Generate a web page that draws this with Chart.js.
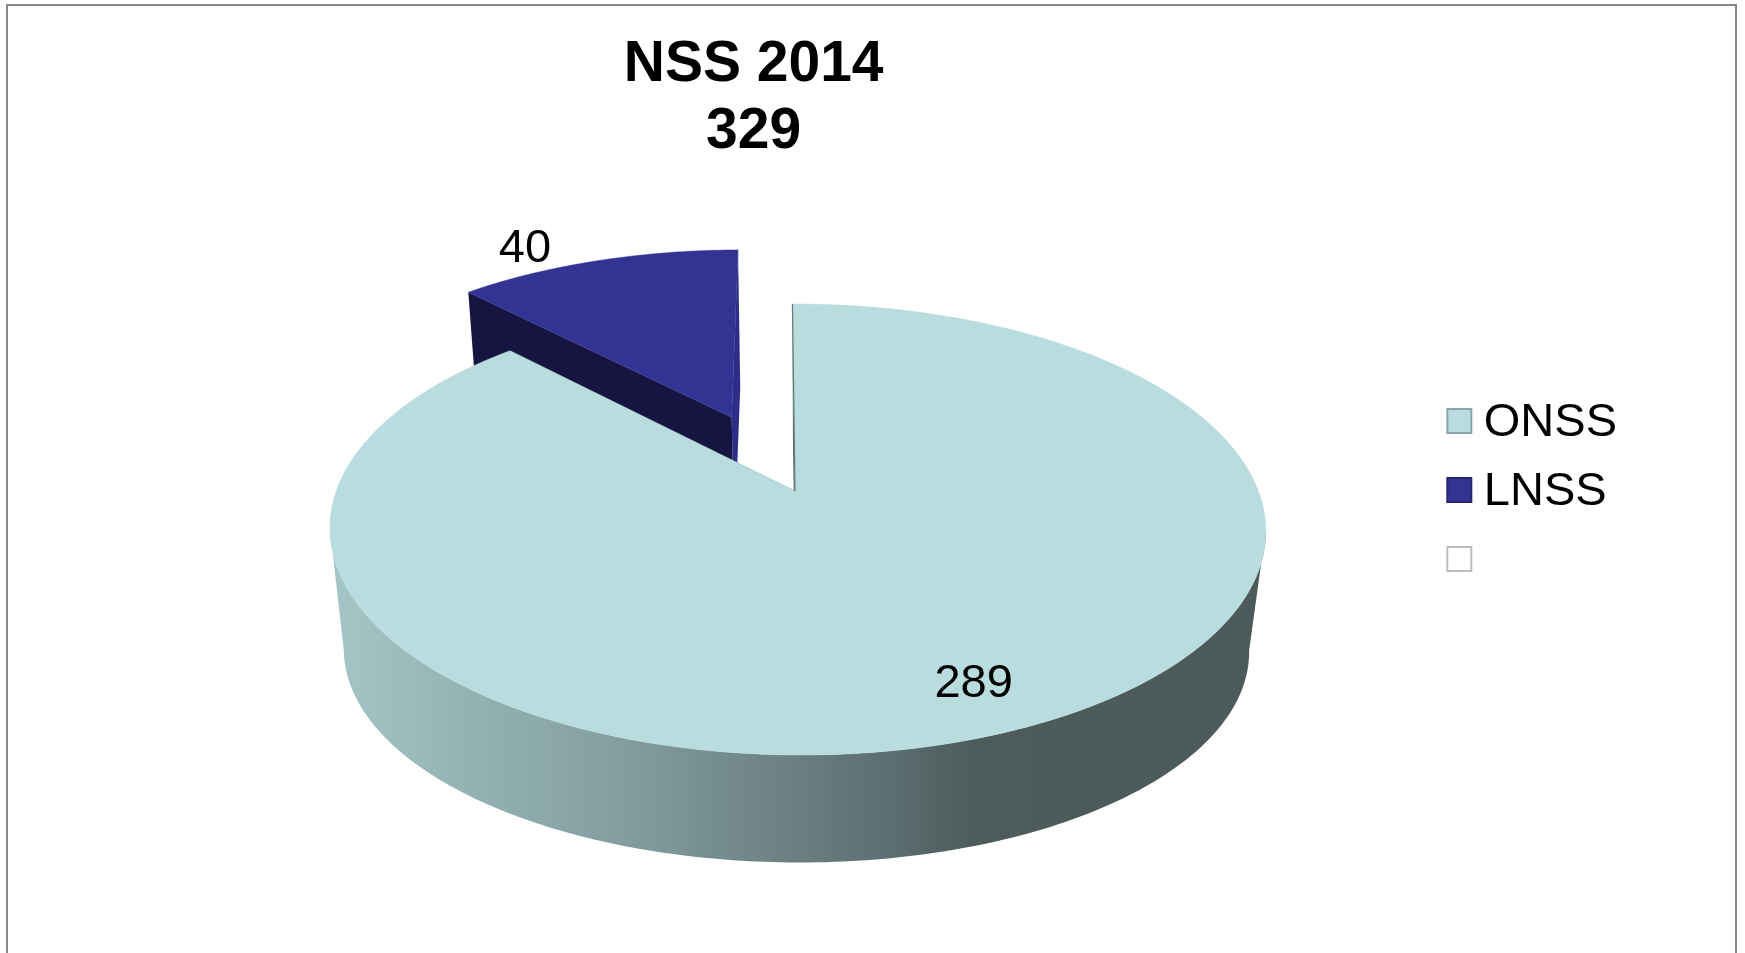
<!DOCTYPE html>
<html>
<head>
<meta charset="utf-8">
<title>NSS 2014</title>
<script src="https://cdn.jsdelivr.net/npm/chart.js@4/dist/chart.umd.min.js"></script>
<style>
html, body { margin: 0; padding: 0; background: #fff; }
canvas { display: block; }
</style>
</head>
<body>
<canvas id="myChart" width="1745" height="953"></canvas>
<script>
const categories = ['ONSS', 'LNSS', ''];
const values = [289, 40, 0];
const titleLines = ['NSS 2014', '329'];
const sliceColors = ['#b9dcde', '#333394', '#ffffff'];
const legendBorders = ['#8ba6a8', '#27276f', '#bdbdbd'];
const startEdgeColors = ['#4c5a5a', '#161440', '#ffffff'];
const endEdgeColors = ['#4c5a5a', '#2d2d88', '#ffffff'];
const explode = [0, 0.385, 0];
const labelRadius = [0.833, 1.16, 0];
const labelTurn = [-0.027, -0.134, 0];

const fontName = '"Liberation Sans", Arial, sans-serif';

// the pie is tilted with a perspective, so the top and the base are two projections of a unit disc
const topFace = { x0: 795, y0: 491, a: 461, b: 218.9, s: 3, k: 0.1708, m: 0.005 };
const baseFace = { x0: 795.5, y0: 614.3, a: 446, b: 205.8, s: 3, k: 0.1708, m: 0.001 };

function project(face, u, v) {
    let w = 1 - face.k * v - face.m * u;
    return { x: face.x0 + (face.a * u + face.s * v) / w, y: face.y0 + face.b * v / w };
}

function swatch(fill, border) {
    // 4px spare at the bottom lifts the box a little against the legend text
    let c = document.createElement('canvas');
    c.width = 28;
    c.height = 32;
    let g = c.getContext('2d');
    g.fillStyle = fill;
    g.fillRect(2, 2, 24, 24);
    g.strokeStyle = border;
    g.lineWidth = 2;
    g.strokeRect(2, 2, 24, 24);
    return c;
}

function slicePoint(face, arc, i, angle) {
    let mid = (arc.startAngle + arc.endAngle) / 2;
    return project(face, Math.cos(mid) * explode[i] + Math.cos(angle), Math.sin(mid) * explode[i] + Math.sin(angle));
}

function apex(face, arc, i) {
    let mid = (arc.startAngle + arc.endAngle) / 2;
    return project(face, Math.cos(mid) * explode[i], Math.sin(mid) * explode[i]);
}

function polygon(c, points) {
    c.beginPath();
    points.forEach((p, n) => n ? c.lineTo(p.x, p.y) : c.moveTo(p.x, p.y));
    c.closePath();
}

function rimAngles(from, to) {
    let out = [];
    let steps = Math.max(2, Math.ceil((to - from) * 60));
    for (let n = 0; n <= steps; n++) out.push(from + (to - from) * n / steps);
    return out;
}

const tiltedPie = {
    id: 'tiltedPie',
    beforeDraw(chart) {
        let c = chart.ctx;
        c.save();
        c.fillStyle = '#fff';
        c.fillRect(0, 0, chart.width, chart.height);
        c.strokeStyle = '#868686';
        c.lineWidth = 2;
        c.strokeRect(7, 5, 1729, 1100);
        c.restore();
    },
    beforeDatasetsDraw(chart) {
        let c = chart.ctx;
        let arcs = chart.getDatasetMeta(0).data;
        c.save();
        for (let i = arcs.length - 1; i >= 0; i--) {
            if (!values[i]) continue;
            let arc = arcs[i];
            let start = arc.startAngle;
            let end = arc.endAngle;

            // straight cut faces
            [[end, endEdgeColors[i]], [start, startEdgeColors[i]]].forEach(([angle, color]) => {
                polygon(c, [apex(topFace, arc, i), slicePoint(topFace, arc, i, angle), slicePoint(baseFace, arc, i, angle), apex(baseFace, arc, i)]);
                c.fillStyle = color;
                c.fill();
            });

            // round wall, only the part that faces the viewer
            let side = Math.asin(topFace.k);
            let from = Math.max(start, side);
            let to = Math.min(end, Math.PI - side);
            if (to > from) {
                let angles = rimAngles(from, to);
                let pts = angles.map(a => slicePoint(topFace, arc, i, a));
                angles.slice().reverse().forEach(a => pts.push(slicePoint(baseFace, arc, i, a)));
                let grad = c.createLinearGradient(330, 0, 1265, 0);
                grad.addColorStop(0, '#a6c5c7');
                grad.addColorStop(0.18, '#90aeb0');
                grad.addColorStop(0.3, '#859fa1');
                grad.addColorStop(0.5, '#6a7f81');
                grad.addColorStop(0.62, '#586a6c');
                grad.addColorStop(0.69, '#4d5b5b');
                grad.addColorStop(1, '#4c5a5a');
                polygon(c, pts);
                c.fillStyle = grad;
                c.fill();
            }

            // top of the slice
            let top = [apex(topFace, arc, i)];
            rimAngles(start, end).forEach(a => top.push(slicePoint(topFace, arc, i, a)));
            polygon(c, top);
            c.fillStyle = sliceColors[i];
            c.fill();
            c.strokeStyle = sliceColors[i];
            c.lineWidth = 0.5;
            c.stroke();

            if (i === 0) {
                c.beginPath();
                let a0 = apex(topFace, arc, i);
                let a1 = slicePoint(topFace, arc, i, start);
                c.moveTo(a0.x, a0.y);
                c.lineTo(a1.x, a1.y);
                c.strokeStyle = '#66797a';
                c.lineWidth = 1.2;
                c.stroke();
            }
        }

        // value labels
        c.fillStyle = '#000';
        c.font = '47px ' + fontName;
        c.textAlign = 'center';
        c.textBaseline = 'middle';
        arcs.forEach((arc, i) => {
            if (!values[i]) return;
            let mid = (arc.startAngle + arc.endAngle) / 2;
            let a = mid + labelTurn[i];
            let p = project(topFace, Math.cos(mid) * explode[i] + Math.cos(a) * labelRadius[i], Math.sin(mid) * explode[i] + Math.sin(a) * labelRadius[i]);
            c.fillText(String(values[i]), p.x, p.y);
        });
        c.restore();
        return false;
    }
};

const ctx = document.getElementById('myChart');
let myChart = new Chart(ctx, {
    type: 'pie',
    data: {
        labels: categories,
        datasets: [{ data: values, backgroundColor: sliceColors, borderWidth: 0 }]
    },
    options: {
        responsive: false,
        animation: false,
        layout: { padding: { left: 71, top: 31, right: 118, bottom: 0 } },
        plugins: {
            tooltip: { enabled: false },
            title: {
                display: true,
                text: titleLines,
                fullSize: false,
                color: '#000',
                font: { family: fontName, size: 57, weight: 'bold', lineHeight: 1.175 },
                padding: { top: 0.8, bottom: 0 }
            },
            legend: {
                display: true,
                position: 'right',
                labels: {
                    usePointStyle: true,
                    pointStyleWidth: 2,
                    boxHeight: 24,
                    padding: 22,
                    color: '#000',
                    font: { family: fontName, size: 47, lineHeight: 1 },
                    generateLabels: () => categories.map((name, i) => ({
                        text: name,
                        fontColor: '#000',
                        fillStyle: sliceColors[i],
                        strokeStyle: legendBorders[i],
                        pointStyle: swatch(sliceColors[i], legendBorders[i]),
                        index: i
                    }))
                }
            }
        }
    },
    plugins: [tiltedPie]
});
</script>
</body>
</html>
